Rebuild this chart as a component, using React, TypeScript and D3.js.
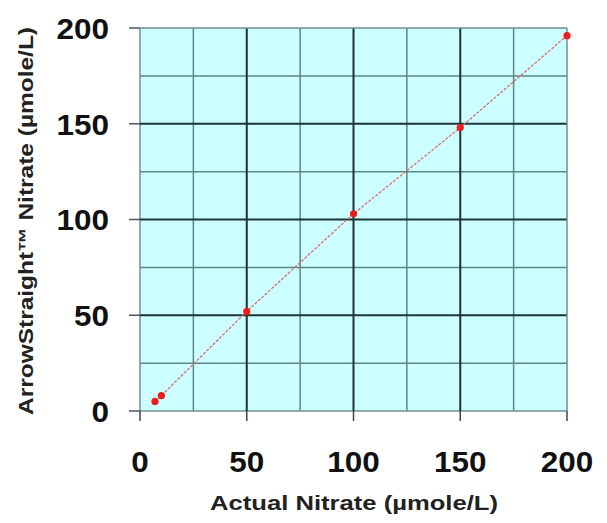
import React from "react";
import { scaleLinear, line } from "d3";

const actual = [7, 10, 50, 100, 150, 200];
const measured = [5, 8, 52, 103, 148, 196];
const majorTicks = [0, 50, 100, 150, 200];
const minorTicks = [25, 75, 125, 175];

const W = 607;
const H = 523;
const margin = { left: 140, top: 28, right: 40, bottom: 112 };

export default function App() {
  const x = scaleLinear()
    .domain([0, 200])
    .range([margin.left, W - margin.right]);
  const y = scaleLinear()
    .domain([0, 200])
    .range([H - margin.bottom, margin.top]);
  const pts = actual.map((a, i) => [a, measured[i]] as [number, number]);
  const path = line<[number, number]>()
    .x((d) => x(d[0]))
    .y((d) => y(d[1]))(pts);
  const font = "Arial, 'Liberation Sans', sans-serif";

  return (
    <svg
      width={W}
      height={H}
      style={{ position: "absolute", left: 0, top: 0, background: "#fff" }}
    >
      <rect
        x={x(0)}
        y={y(200)}
        width={x(200) - x(0)}
        height={y(0) - y(200)}
        fill="#ccffff"
      />
      {/* minor grid */}
      {minorTicks.map((t) => (
        <g key={"m" + t}>
          <line x1={x(t)} x2={x(t)} y1={y(0)} y2={y(200)} stroke="#5f8585" strokeWidth={1.5} />
          <line x1={x(0)} x2={x(200)} y1={y(t)} y2={y(t)} stroke="#5f8585" strokeWidth={1.5} />
        </g>
      ))}
      {/* major grid */}
      {majorTicks.map((t) => {
        const edge = t === 0 || t === 200;
        const c = edge ? "#6f8f8f" : "#1c3434";
        return (
          <g key={"M" + t}>
            <line x1={x(t)} x2={x(t)} y1={y(0)} y2={y(200)} stroke={c} strokeWidth={edge ? 1.5 : 2} />
            <line x1={x(0)} x2={x(200)} y1={y(t)} y2={y(t)} stroke={c} strokeWidth={edge ? 1.5 : 2} />
          </g>
        );
      })}
      {/* ticks */}
      {majorTicks.map((t) => (
        <g key={"t" + t}>
          <line x1={x(0) - 11} x2={x(0)} y1={y(t)} y2={y(t)} stroke="#4a5a5a" strokeWidth={1.5} />
          <line x1={x(t)} x2={x(t)} y1={y(0)} y2={y(0) + 10} stroke="#3a4a4a" strokeWidth={1.5} />
          <text
            x={109}
            y={y(t)}
            dy="0.36em"
            textAnchor="end"
            fontFamily={font}
            fontWeight="bold"
            fontSize={30}
            fill="#111"
            textLength={String(t).length * 17.5}
            lengthAdjust="spacingAndGlyphs"
          >
            {t}
          </text>
          <text
            x={x(t)}
            y={472}
            textAnchor="middle"
            fontFamily={font}
            fontWeight="bold"
            fontSize={30}
            fill="#111"
            textLength={String(t).length * 17.5}
            lengthAdjust="spacingAndGlyphs"
          >
            {t}
          </text>
        </g>
      ))}
      <path d={path ?? ""} fill="none" stroke="#e06a6a" strokeWidth={1.3} strokeDasharray="3,1.5" />
      {pts.map((d, i) => (
        <circle key={i} cx={x(d[0])} cy={y(d[1])} r={3.6} fill="#ee1c1c" />
      ))}
      <text
        x={354}
        y={510}
        textAnchor="middle"
        fontFamily={font}
        fontWeight="bold"
        fontSize={20}
        fill="#222"
        textLength={288}
        lengthAdjust="spacingAndGlyphs"
      >
        Actual Nitrate (µmole/L)
      </text>
      <text
        transform={`translate(33,${221}) rotate(-90)`}
        textAnchor="middle"
        fontFamily={font}
        fontWeight="bold"
        fontSize={20}
        fill="#222"
        textLength={388}
        lengthAdjust="spacingAndGlyphs"
      >
        ArrowStraight™ Nitrate (µmole/L)
      </text>
    </svg>
  );
}
